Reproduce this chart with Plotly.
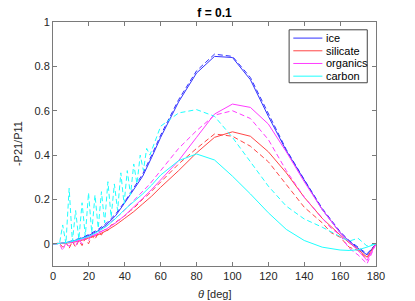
import plotly.graph_objects as go

# ---- data ----
# smooth grid (solid curves + ice dashed)
THETA_S = [0, 5, 10, 15, 20, 25, 30, 35, 40, 45, 50, 55, 60, 70, 80, 90, 100,
           110, 120, 130, 140, 150, 160, 165, 170, 175, 180]
# fine grid (dashed curves with oscillations)
THETA_F = [0, 1.8, 3.6, 5.4, 7.2, 9.0, 10.8, 12.6, 14.4, 16.2, 18.0, 19.8, 21.6,
           23.4, 25.2, 27.0, 28.8, 30.6, 32.4, 34.2, 36.0, 37.8, 39.6, 41.4,
           43.2, 45.0, 46.8, 48.6, 50.4, 52.2, 54.0,
           60, 70, 80, 90, 100, 110, 120, 130, 140, 150, 155, 160, 165, 170, 175, 180]

ice_solid = [0, 0.002, 0.01, 0.022, 0.038, 0.058, 0.088, 0.128, 0.185, 0.245, 0.305,
             0.39, 0.48, 0.64, 0.77, 0.845, 0.84, 0.74, 0.575, 0.42, 0.285, 0.155,
             0.05, 0.012, -0.02, -0.05, 0]
ice_dashed = [0, 0.003, 0.012, 0.025, 0.042, 0.064, 0.095, 0.135, 0.19, 0.25, 0.315,
              0.4, 0.49, 0.65, 0.78, 0.855, 0.845, 0.75, 0.585, 0.425, 0.29, 0.16,
              0.055, 0.015, -0.015, -0.045, 0]
silicate_solid = [0, 0.001, 0.005, 0.013, 0.025, 0.04, 0.06, 0.085, 0.115, 0.145, 0.18,
                  0.215, 0.255, 0.33, 0.41, 0.48, 0.505, 0.485, 0.415, 0.32, 0.21,
                  0.115, 0.04, 0.005, -0.025, -0.06, 0]
organics_solid = [0, 0.002, 0.007, 0.016, 0.03, 0.047, 0.068, 0.095, 0.128, 0.165, 0.205,
                  0.245, 0.29, 0.375, 0.48, 0.585, 0.63, 0.615, 0.54, 0.415, 0.28,
                  0.155, 0.05, 0.01, -0.03, -0.075, 0]
carbon_solid = [0, 0.003, 0.01, 0.02, 0.033, 0.055, 0.08, 0.115, 0.155, 0.19, 0.225,
                0.265, 0.31, 0.375, 0.405, 0.378, 0.305, 0.225, 0.14, 0.065, 0.015,
                -0.015, -0.028, -0.03, -0.027, -0.015, 0]

silicate_dashed = [0, 0.0, 0.003, -0.015, 0.006, -0.02, 0.01, -0.015, 0.015, -0.008,
                   0.025, 0.0, 0.035, 0.02, 0.05, 0.04, 0.065, 0.06, 0.085, 0.09,
                   0.105, 0.11, 0.125, 0.135, 0.15, 0.16, 0.175, 0.19, 0.205, 0.215,
                   0.23,
                   0.28, 0.36, 0.43, 0.495, 0.485, 0.44, 0.37, 0.265, 0.165, 0.095,
                   0.05, 0.03, -0.015, -0.03, -0.065, 0]
organics_dashed = [0, 0.0, 0.0, -0.03, 0.005, -0.012, 0.012, -0.01, 0.02, 0.0,
                   0.03, 0.015, 0.04, 0.035, 0.055, 0.055, 0.075, 0.085, 0.1, 0.11,
                   0.125, 0.135, 0.15, 0.165, 0.18, 0.195, 0.21, 0.225, 0.24, 0.255,
                   0.27,
                   0.33, 0.43, 0.51, 0.58, 0.6, 0.565, 0.47, 0.33, 0.21, 0.12,
                   0.07, 0.04, -0.02, -0.05, -0.09, 0]
carbon_dashed = [0, 0.0, 0.0, 0.085, 0.0, 0.25, 0.01, 0.15, 0.02, 0.185,
                 0.035, 0.23, 0.05, 0.22, 0.07, 0.235, 0.095, 0.28, 0.12, 0.27,
                 0.15, 0.32, 0.18, 0.33, 0.22, 0.36, 0.27, 0.4, 0.33, 0.43,
                 0.4,
                 0.53, 0.59, 0.605, 0.575, 0.48, 0.37, 0.26, 0.17, 0.112, 0.075,
                 0.055, 0.035, 0.012, 0.025, -0.01, 0]

NAMES = ["ice", "silicate", "organics", "carbon"]
COLORS = ["rgb(50,50,255)", "rgb(255,70,70)", "rgb(255,60,255)", "rgb(30,255,255)"]
SOLID = [ice_solid, silicate_solid, organics_solid, carbon_solid]
DASHED_X = [THETA_S, THETA_F, THETA_F, THETA_F]
DASHED = [ice_dashed, silicate_dashed, organics_dashed, carbon_dashed]

X_TICKS = [0, 20, 40, 60, 80, 100, 120, 140, 160, 180]
Y_TICKS = [0, 0.2, 0.4, 0.6, 0.8, 1]
Y_TICK_TEXT = ["0", "0.2", "0.4", "0.6", "0.8", "1"]

FONT = "Liberation Sans, Arial, Helvetica, sans-serif"
TXT = "#262626"
AXC = "#7a7a7a"

fig = go.Figure()
for name, col, ys, dx, dy in zip(NAMES, COLORS, SOLID, DASHED_X, DASHED):
    fig.add_trace(go.Scatter(x=THETA_S, y=ys, mode="lines", name=name,
                             line=dict(color=col, width=1), showlegend=False))
    fig.add_trace(go.Scatter(x=dx, y=dy, mode="lines", name=name + " (dashed)",
                             line=dict(color=col, width=1, dash="5px,3px"),
                             showlegend=False))

# custom compact legend (MATLAB style)
lx0, lx1, ly0, ly1 = 0.731, 0.973, 0.751, 0.968
fig.add_shape(type="rect", xref="paper", yref="paper", x0=lx0, x1=lx1, y0=ly0, y1=ly1,
              line=dict(color="#444", width=1), fillcolor="white", layer="above")
rows = [0.934, 0.882, 0.830, 0.778]
for name, col, ry in zip(NAMES, COLORS, rows):
    fig.add_shape(type="line", xref="paper", yref="paper", x0=0.744, x1=0.834,
                  y0=ry, y1=ry, line=dict(color=col, width=1), layer="above")
    fig.add_annotation(xref="paper", yref="paper", x=0.838, y=ry, text=name,
                       showarrow=False, xanchor="left", yanchor="middle",
                       font=dict(family=FONT, size=11, color="#000"))

# axis titles
fig.add_annotation(xref="paper", yref="paper", x=0.5, y=-0.115,
                   text="<i>θ</i> [deg]", showarrow=False,
                   xanchor="center", yanchor="middle",
                   font=dict(family=FONT, size=11, color=TXT))
fig.add_annotation(xref="paper", yref="paper", x=-0.108, y=0.5,
                   text="-P21/P11", showarrow=False, textangle=-90,
                   xanchor="center", yanchor="middle",
                   font=dict(family=FONT, size=11, color=TXT))

axis_common = dict(showline=True, linecolor=AXC, linewidth=1, mirror="ticks",
                   ticks="inside", ticklen=4, tickcolor=AXC, showgrid=False,
                   zeroline=False, automargin=False,
                   tickfont=dict(family=FONT, size=11, color=TXT))
fig.update_xaxes(range=[0, 180], tickvals=X_TICKS, **axis_common)
fig.update_yaxes(range=[-0.1, 1], tickvals=Y_TICKS, ticktext=Y_TICK_TEXT,
                 **axis_common)
fig.update_layout(
    template="none",
    width=415, height=301, autosize=False,
    margin=dict(l=53, r=39, t=22, b=35),
    paper_bgcolor="white", plot_bgcolor="white",
    title=dict(text="<b>f = 0.1</b>", x=0.5, xref="paper", y=0.957,
               yref="container", xanchor="center", yanchor="middle",
               font=dict(family=FONT, size=12, color="#000")),
    showlegend=False,
)
fig.write_html("out.html", config={"displayModeBar": False},
               post_script="document.body.style.margin='0';document.body.style.padding='0';")
